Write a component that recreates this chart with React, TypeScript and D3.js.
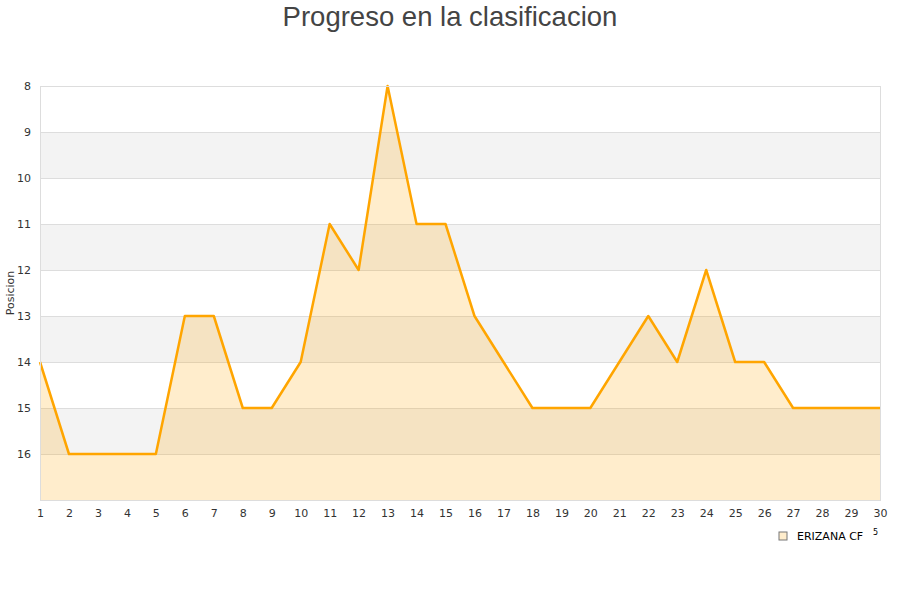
import React, { useEffect, useRef } from "react";
import * as d3 from "d3";

const jornadas = d3.range(1, 31);
const posiciones = [14, 16, 16, 16, 16, 13, 13, 15, 15, 14, 11, 12, 8, 11, 11, 13, 14, 15, 15, 15, 14, 13, 14, 12, 14, 14, 15, 15, 15, 15];
const yTicks = [8, 9, 10, 11, 12, 13, 14, 15, 16];
const bandas = [9, 11, 13, 15];
const equipo = "ERIZANA CF";

const App: React.FC = () => {
  const svgRef = useRef<SVGSVGElement | null>(null);

  useEffect(() => {
    if (!svgRef.current) return;
    const svg = d3.select(svgRef.current);
    svg.selectAll("*").remove();

    const width = 900;
    const height = 600;
    const margin = { top: 86, right: 20, bottom: 100, left: 40 };
    const innerWidth = width - margin.left - margin.right;
    const innerHeight = height - margin.top - margin.bottom;
    const font = "DejaVu Sans, sans-serif";

    svg.append("rect").attr("width", width).attr("height", height).attr("fill", "#fff");

    svg.append("text")
      .attr("x", width / 2)
      .attr("y", 26)
      .attr("text-anchor", "middle")
      .attr("font-family", "Liberation Sans, Arial, sans-serif")
      .attr("font-size", 27.5)
      .attr("fill", "#444")
      .text("Progreso en la clasificacion");

    const g = svg.append("g").attr("transform", `translate(${margin.left},${margin.top})`);

    const x = d3.scaleLinear().domain([1, 30]).range([0, innerWidth]);
    const y = d3.scaleLinear().domain([8, 17]).range([0, innerHeight]);

    // franjas alternas
    g.selectAll("rect.banda")
      .data(bandas)
      .enter()
      .append("rect")
      .attr("x", 0)
      .attr("y", d => y(d))
      .attr("width", innerWidth)
      .attr("height", d => y(d + 1) - y(d))
      .attr("fill", "#f3f3f3");

    g.selectAll("line.grid")
      .data(yTicks)
      .enter()
      .append("line")
      .attr("x1", 0)
      .attr("x2", innerWidth)
      .attr("y1", d => y(d) + 0.5)
      .attr("y2", d => y(d) + 0.5)
      .attr("stroke", "#ddd");

    const area = d3.area<number>()
      .x((_, i) => x(jornadas[i]))
      .y0(innerHeight)
      .y1(d => y(d));

    g.append("path")
      .datum(posiciones)
      .attr("d", area)
      .attr("fill", "#ffa500")
      .attr("fill-opacity", 0.2);

    const line = d3.line<number>()
      .x((_, i) => x(jornadas[i]))
      .y(d => y(d));

    g.append("path")
      .datum(posiciones)
      .attr("d", line)
      .attr("fill", "none")
      .attr("stroke", "#ffa500")
      .attr("stroke-width", 2.5)
      .attr("stroke-linejoin", "round");

    g.append("rect")
      .attr("x", 0.5)
      .attr("y", 0.5)
      .attr("width", innerWidth)
      .attr("height", innerHeight)
      .attr("fill", "none")
      .attr("stroke", "#ddd");

    const yAxis = g.append("g")
      .call(d3.axisLeft(y).tickValues(yTicks).tickSize(0).tickPadding(9));
    yAxis.select(".domain").remove();
    yAxis.selectAll("text").attr("font-family", font).attr("font-size", 11).attr("fill", "#333");

    const xAxis = g.append("g")
      .attr("transform", `translate(0,${innerHeight})`)
      .call(d3.axisBottom(x).tickValues(jornadas).tickFormat(d3.format("d")).tickSize(0).tickPadding(9));
    xAxis.select(".domain").remove();
    xAxis.selectAll("text").attr("font-family", font).attr("font-size", 11).attr("fill", "#333");

    svg.append("text")
      .attr("transform", `translate(14,${margin.top + innerHeight / 2}) rotate(-90)`)
      .attr("text-anchor", "middle")
      .attr("font-family", font)
      .attr("font-size", 11)
      .attr("fill", "#333")
      .text("Posicion");

    // leyenda
    const lg = svg.append("g").attr("transform", "translate(779,532)");
    lg.append("rect")
      .attr("width", 8)
      .attr("height", 8)
      .attr("fill", "#ffedcc")
      .attr("stroke", "#777")
      .attr("stroke-width", 1);
    lg.append("text")
      .attr("x", 18)
      .attr("y", 8)
      .attr("font-family", font)
      .attr("font-size", 11)
      .attr("fill", "#000")
      .text(equipo);
    lg.append("text")
      .attr("x", 94)
      .attr("y", 3)
      .attr("font-family", font)
      .attr("font-size", 8)
      .attr("fill", "#000")
      .text("5");
  }, []);

  return (
    <svg
      ref={svgRef}
      width={900}
      height={600}
      style={{ position: "absolute", left: 0, top: 0, display: "block" }}
    ></svg>
  );
};

export default App;
